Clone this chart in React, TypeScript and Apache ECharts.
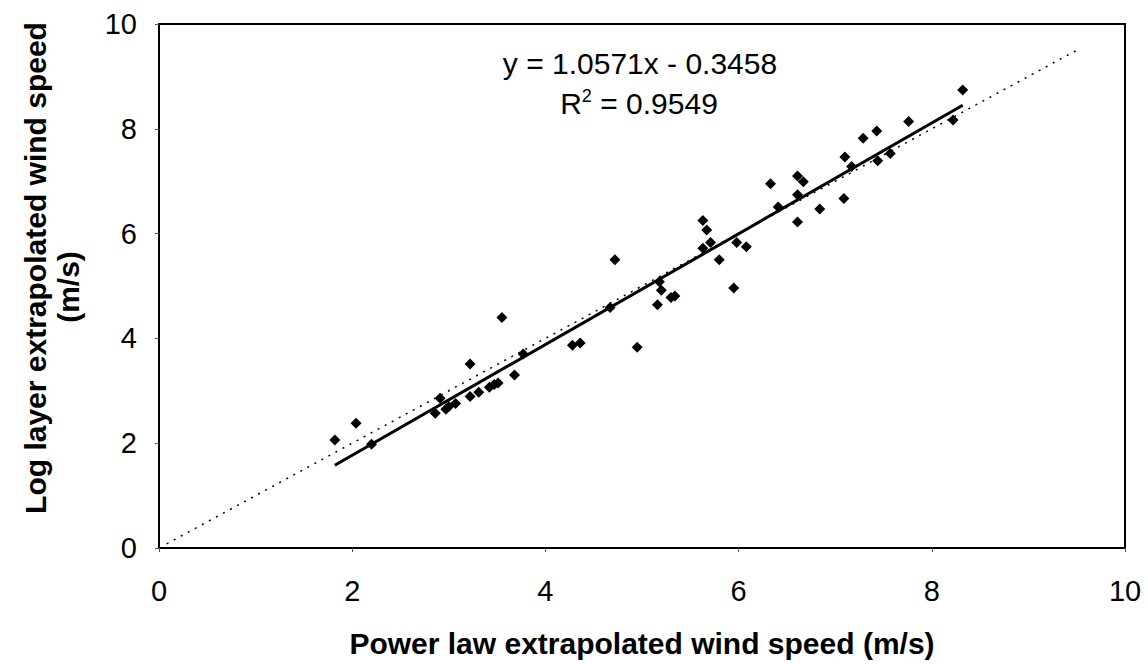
import React, { useEffect, useRef } from "react";
import * as echarts from "echarts";

const powerLaw: number[] = [
  1.82, 2.04, 2.2, 2.86, 2.91, 2.97, 3.0, 3.07, 3.22, 3.22, 3.31, 3.42, 3.47, 3.51, 3.68, 3.77,
  3.55, 4.28, 4.36, 4.95, 4.67, 4.72, 5.16, 5.18, 5.2, 5.3, 5.34,
  5.63, 5.67, 5.71, 5.63, 5.8, 5.98, 6.08, 5.95,
  6.33, 6.61, 6.67, 6.61, 6.41, 6.84, 6.61,
  7.1, 7.17, 7.09, 7.29, 7.43, 7.44, 7.57, 7.76, 8.22, 8.32,
];
const logLayer: number[] = [
  2.06, 2.38, 1.98, 2.57, 2.86, 2.65, 2.7, 2.76, 3.51, 2.89, 2.97, 3.07, 3.12, 3.15, 3.3, 3.7,
  4.4, 3.87, 3.91, 3.83, 4.59, 5.5, 4.64, 5.08, 4.92, 4.78, 4.81,
  6.25, 6.07, 5.83, 5.72, 5.5, 5.83, 5.75, 4.96,
  6.95, 7.1, 6.99, 6.74, 6.51, 6.47, 6.22,
  7.46, 7.28, 6.67, 7.82, 7.96, 7.39, 7.53, 8.14, 8.17, 8.74,
];
const slope = 1.0571;
const intercept = -0.3458;
const rSquared = "0.9549";
const trendRange: number[] = [1.82, 8.32];
const identityRange: number[] = [0.08, 9.5];
const axisTicks: number[] = [0, 2, 4, 6, 8, 10];
const xTitle = "Power law extrapolated wind speed (m/s)";
const yTitleLines: string[] = ["Log layer extrapolated wind speed", "(m/s)"];

const FONT = "'Liberation Sans', Arial, sans-serif";

export default function App() {
  const ref = useRef<HTMLDivElement>(null);
  useEffect(() => {
    if (!ref.current) return;
    const chart = echarts.init(ref.current, undefined, { renderer: "svg" });
    const points = powerLaw.map((x, i) => [x, logLayer[i]]);
    const trend = trendRange.map((x) => [x, slope * x + intercept]);
    const identity = identityRange.map((x) => [x, x]);
    const sign = intercept < 0 ? "-" : "+";
    chart.setOption({
      animation: false,
      backgroundColor: "#fff",
      textStyle: { fontFamily: FONT },
      grid: {
        left: 159,
        top: 24,
        right: 23,
        bottom: 116,
        show: true,
        borderColor: "#000",
        borderWidth: 2,
        backgroundColor: "transparent",
      },
      xAxis: {
        type: "value",
        min: axisTicks[0],
        max: axisTicks[axisTicks.length - 1],
        interval: axisTicks[1] - axisTicks[0],
        axisLine: { show: true, lineStyle: { color: "#000", width: 2 } },
        axisTick: { show: true, length: 4, lineStyle: { color: "#555" } },
        splitLine: { show: false },
        axisLabel: { color: "#000", fontSize: 29, margin: 28, fontFamily: FONT },
        name: xTitle,
        nameLocation: "middle",
        nameGap: 80,
        nameTextStyle: { color: "#000", fontSize: 30, fontWeight: "bold", fontFamily: FONT },
      },
      yAxis: {
        type: "value",
        min: axisTicks[0],
        max: axisTicks[axisTicks.length - 1],
        interval: axisTicks[1] - axisTicks[0],
        axisLine: { show: true, lineStyle: { color: "#000", width: 2 } },
        axisTick: { show: true, length: 4, lineStyle: { color: "#555" } },
        splitLine: { show: false },
        axisLabel: { color: "#000", fontSize: 29, margin: 22, fontFamily: FONT },
      },
      graphic: [
        {
          type: "text",
          x: 35,
          y: 268,
          rotation: Math.PI / 2,
          style: {
            text: yTitleLines[0],
            fill: "#000",
            font: `bold 30px ${FONT}`,
            textAlign: "center",
            textVerticalAlign: "middle",
          },
        },
        {
          type: "text",
          x: 68,
          y: 287,
          rotation: Math.PI / 2,
          style: {
            text: yTitleLines[1],
            fill: "#000",
            font: `bold 30px ${FONT}`,
            textAlign: "center",
            textVerticalAlign: "middle",
          },
        },
        {
          type: "text",
          x: 640,
          y: 63,
          style: {
            text: `y = ${slope.toFixed(4)}x ${sign} ${Math.abs(intercept).toFixed(4)}`,
            fill: "#000",
            font: `30px ${FONT}`,
            textAlign: "center",
            textVerticalAlign: "middle",
          },
        },
        {
          type: "text",
          x: 639,
          y: 103,
          style: {
            text: `{a|R}{s|2}{a| = ${rSquared}}`,
            textAlign: "center",
            textVerticalAlign: "middle",
            rich: {
              a: { fontSize: 30, fontFamily: FONT, fill: "#000", color: "#000" },
              s: { fontSize: 18, fontFamily: FONT, fill: "#000", color: "#000", verticalAlign: "top", padding: [0, 0, 14, 0] },
            },
          },
        },
      ],
      series: [
        {
          type: "line",
          data: identity,
          symbol: "none",
          lineStyle: { color: "#000", width: 1.5, type: [2, 6] },
          z: 1,
        },
        {
          type: "line",
          data: trend,
          symbol: "none",
          lineStyle: { color: "#000", width: 3 },
          z: 2,
        },
        {
          type: "scatter",
          data: points,
          symbol: "diamond",
          symbolSize: 11,
          itemStyle: { color: "#000", opacity: 1 },
          z: 3,
        },
      ],
    });
    return () => chart.dispose();
  }, []);
  return <div ref={ref} style={{ width: 1148, height: 664, position: "absolute", left: 0, top: 0 }} />;
}
